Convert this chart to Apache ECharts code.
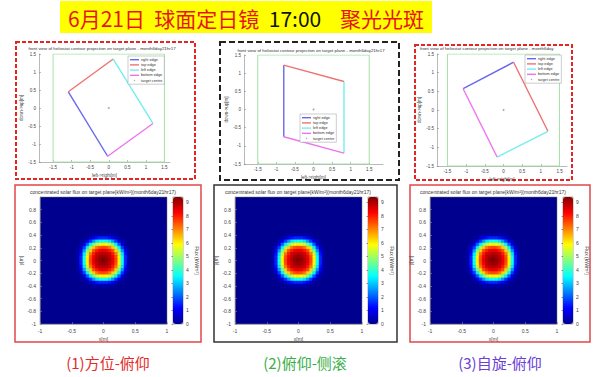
<!DOCTYPE html>
<html>
<head>
<meta charset="utf-8">
<title>6月21日 球面定日镜 17:00 聚光光斑</title>
<script src="https://cdn.jsdelivr.net/npm/echarts@6/dist/echarts.min.js"></script>
<style>
  html, body { margin: 0; padding: 0; background: #fff; }
  #main { width: 600px; height: 377px; }
</style>
</head>
<body>
<div id="main"></div>
<script>
// 定日镜轮廓在靶面上的投影: 四个角点, 从 right edge 起点开始顺序排列
const CORNERS_1 = [[-0.03, -1.34], [-1.09, 0.45], [0.12, 1.36], [1.19, -0.43]];
const CORNERS_2 = [[-0.8, -0.75], [-0.8, 1.22], [0.82, 0.77], [0.82, -1.2]];
const CORNERS_3 = [[-1.08, 0.57], [0.27, 1.28], [1.19, -0.57], [-0.17, -1.26]];
const TARGET_BOX = [[-1.5, -1.5], [1.5, -1.5], [1.5, 1.5], [-1.5, 1.5], [-1.5, -1.5]];
const TARGET_CENTRE = [[0, 0]];
const EDGE_NAMES = ['right edge', 'top edge', 'left edge', 'bottom edge'];
const CONTOUR_TICKS = [-1.5, -1, -0.5, 0, 0.5, 1, 1.5];

// 聚光光斑 能流密度 kW/m2 (靶面中心 0.9m x 0.9m 区域, 其余为 0)
const FLUX_X = [-0.45, -0.4, -0.35, -0.3, -0.25, -0.2, -0.15, -0.1, -0.05, 0, 0.05, 0.1, 0.15, 0.2, 0.25, 0.3, 0.35, 0.4, 0.45];
const FLUX_Y = [0.45, 0.4, 0.35, 0.3, 0.25, 0.2, 0.15, 0.1, 0.05, 0, -0.05, -0.1, -0.15, -0.2, -0.25, -0.3, -0.35, -0.4, -0.45];
const FLUX = [
  [0, 0, 0, 0, 0, 0, 0, 0, 0, 0, 0, 0, 0, 0, 0, 0, 0, 0, 0],
  [0, 0, 0, 0, 0, 0.1, 0.2, 0.3, 0.3, 0.3, 0.3, 0.3, 0.2, 0.1, 0, 0, 0, 0, 0],
  [0, 0, 0, 0.1, 0.2, 0.6, 1.0, 1.3, 1.5, 1.5, 1.5, 1.3, 1.0, 0.6, 0.2, 0.1, 0, 0, 0],
  [0, 0, 0.1, 0.3, 0.9, 1.7, 2.6, 3.3, 3.6, 3.7, 3.6, 3.3, 2.6, 1.7, 0.9, 0.3, 0.1, 0, 0],
  [0, 0, 0.2, 0.9, 2.0, 3.4, 4.6, 5.4, 5.9, 6.0, 5.9, 5.4, 4.6, 3.4, 2.0, 0.9, 0.2, 0, 0],
  [0, 0.1, 0.6, 1.7, 3.4, 5.1, 6.3, 7.1, 7.5, 7.6, 7.5, 7.1, 6.3, 5.1, 3.4, 1.7, 0.6, 0.1, 0],
  [0, 0.2, 1.0, 2.6, 4.6, 6.3, 7.5, 8.0, 8.3, 8.4, 8.3, 8.0, 7.5, 6.3, 4.6, 2.6, 1.0, 0.2, 0],
  [0, 0.3, 1.3, 3.3, 5.4, 7.1, 8.0, 8.6, 8.8, 8.9, 8.8, 8.6, 8.0, 7.1, 5.4, 3.3, 1.3, 0.3, 0],
  [0, 0.3, 1.5, 3.6, 5.9, 7.5, 8.3, 8.8, 9.1, 9.2, 9.1, 8.8, 8.3, 7.5, 5.9, 3.6, 1.5, 0.3, 0],
  [0, 0.3, 1.5, 3.7, 6.0, 7.6, 8.4, 8.9, 9.2, 9.4, 9.2, 8.9, 8.4, 7.6, 6.0, 3.7, 1.5, 0.3, 0],
  [0, 0.3, 1.5, 3.6, 5.9, 7.5, 8.3, 8.8, 9.1, 9.2, 9.1, 8.8, 8.3, 7.5, 5.9, 3.6, 1.5, 0.3, 0],
  [0, 0.3, 1.3, 3.3, 5.4, 7.1, 8.0, 8.6, 8.8, 8.9, 8.8, 8.6, 8.0, 7.1, 5.4, 3.3, 1.3, 0.3, 0],
  [0, 0.2, 1.0, 2.6, 4.6, 6.3, 7.5, 8.0, 8.3, 8.4, 8.3, 8.0, 7.5, 6.3, 4.6, 2.6, 1.0, 0.2, 0],
  [0, 0.1, 0.6, 1.7, 3.4, 5.1, 6.3, 7.1, 7.5, 7.6, 7.5, 7.1, 6.3, 5.1, 3.4, 1.7, 0.6, 0.1, 0],
  [0, 0, 0.2, 0.9, 2.0, 3.4, 4.6, 5.4, 5.9, 6.0, 5.9, 5.4, 4.6, 3.4, 2.0, 0.9, 0.2, 0, 0],
  [0, 0, 0.1, 0.3, 0.9, 1.7, 2.6, 3.3, 3.6, 3.7, 3.6, 3.3, 2.6, 1.7, 0.9, 0.3, 0.1, 0, 0],
  [0, 0, 0, 0.1, 0.2, 0.6, 1.0, 1.3, 1.5, 1.5, 1.5, 1.3, 1.0, 0.6, 0.2, 0.1, 0, 0, 0],
  [0, 0, 0, 0, 0, 0.1, 0.2, 0.3, 0.3, 0.3, 0.3, 0.3, 0.2, 0.1, 0, 0, 0, 0, 0],
  [0, 0, 0, 0, 0, 0, 0, 0, 0, 0, 0, 0, 0, 0, 0, 0, 0, 0, 0]
];
const FLUX_MAX = 9.4;

const PANEL_LABELS = ['(1)方位-俯仰', '(2)俯仰-侧滚', '(3)自旋-俯仰'];
const CONTOUR_TITLE = 'front view of heliostat contour projection on target plane - month6day21hr17';
const FLUX_TITLE = 'concentrated solar flux on target plane[kW/m²](month6day21hr17)';

const chart = echarts.init(document.getElementById('main'), null, { renderer: 'svg' });

const FONT = '"Liberation Sans", Arial, sans-serif';
const CJK = '"Noto Sans CJK SC", sans-serif';
const EDGE_COLORS = ['#6868ee', '#ee7272', '#74eeee', '#ee74ee'];
const JET = ['#00008f', '#0000ff', '#0080ff', '#00ffff', '#80ff80', '#ffff00', '#ff8000', '#ff0000', '#800000'];
const CELL = 0.05;

// 上排: 轮廓投影图 (grid 位置, x 轴范围, 图例位置)
const topPanels = [
  { grid: [39, 54, 131, 108], xMin: -1.88, xMax: 1.65, corners: CORNERS_1, legend: [128, 56] },
  { grid: [244, 55, 139, 109], xMin: -1.87, xMax: 1.87, corners: CORNERS_2, legend: [300, 114] },
  { grid: [437, 54, 130, 112], xMin: -1.78, xMax: 1.7, corners: CORNERS_3, legend: [525, 55] }
];
// 下排: 能流密度图 + colorbar
const heatPanels = [
  { left: 40, bar: 173 },
  { left: 235, bar: 368 },
  { left: 430, bar: 563 }
];

const grids = [];
const xAxes = [];
const yAxes = [];
const series = [];

const axisLineStyle = { color: '#8a8a8a', width: 0.6 };
const labelStyle = { fontSize: 4.5, color: '#444', fontFamily: FONT };

topPanels.forEach(function (p, i) {
  grids.push({ left: p.grid[0], top: p.grid[1], width: p.grid[2], height: p.grid[3] });
  xAxes.push({
    gridIndex: i, type: 'value', min: p.xMin, max: p.xMax,
    axisLine: { onZero: false, lineStyle: axisLineStyle },
    axisTick: { inside: true, length: 2, customValues: CONTOUR_TICKS, lineStyle: axisLineStyle },
    axisLabel: Object.assign({ margin: 3, customValues: CONTOUR_TICKS }, labelStyle),
    splitLine: { show: false },
    name: 'left->right[m]', nameLocation: 'middle', nameGap: 11,
    nameTextStyle: { fontSize: 4.5, color: '#444', fontFamily: FONT }
  });
  yAxes.push({
    gridIndex: i, type: 'value', min: -1.5, max: 1.5, interval: 0.5,
    axisLine: { onZero: false, lineStyle: axisLineStyle },
    axisTick: { inside: true, length: 2, lineStyle: axisLineStyle },
    axisLabel: Object.assign({ margin: 3 }, labelStyle),
    splitLine: { show: false },
    name: 'down->up[m]', nameLocation: 'middle', nameGap: 12,
    nameTextStyle: { fontSize: 4.5, color: '#444', fontFamily: FONT }
  });

  series.push({
    type: 'line', name: 'target box', xAxisIndex: i, yAxisIndex: i, data: TARGET_BOX,
    symbol: 'none', silent: true, lineStyle: { color: '#a6e2a6', width: 1 }
  });
  EDGE_NAMES.forEach(function (name, k) {
    series.push({
      type: 'line', name: name, xAxisIndex: i, yAxisIndex: i,
      data: [p.corners[k], p.corners[(k + 1) % 4]],
      symbol: 'none', lineStyle: { color: EDGE_COLORS[k], width: 1.4 },
      itemStyle: { color: EDGE_COLORS[k] }
    });
  });
  series.push({
    type: 'scatter', name: 'target centre', xAxisIndex: i, yAxisIndex: i,
    data: TARGET_CENTRE, symbolSize: 2, itemStyle: { color: '#9a9a9a' }
  });
});

// 能流数据点
const fluxData = [];
FLUX.forEach(function (row, r) {
  row.forEach(function (v, c) {
    fluxData.push([FLUX_X[c], FLUX_Y[r], v]);
  });
});

function renderCell(params, api) {
  const a = api.coord([api.value(0) - CELL / 2, api.value(1) + CELL / 2]);
  const b = api.coord([api.value(0) + CELL / 2, api.value(1) - CELL / 2]);
  const color = api.visual('color');
  return {
    type: 'rect',
    shape: { x: a[0], y: a[1], width: b[0] - a[0], height: b[1] - a[1] },
    style: { fill: color, stroke: color, lineWidth: 0.6 }
  };
}

const heatSeriesStart = series.length;
const visualMaps = [];
heatPanels.forEach(function (h, i) {
  const gi = 3 + i;
  grids.push({
    left: h.left, top: 197, width: 127, height: 127,
    show: true, backgroundColor: JET[0], borderColor: '#777', borderWidth: 0.5
  });
  xAxes.push({
    gridIndex: gi, type: 'value', min: -1, max: 1, interval: 0.5,
    axisLine: { onZero: false, lineStyle: axisLineStyle },
    axisTick: { inside: true, length: 2, lineStyle: axisLineStyle },
    axisLabel: Object.assign({ margin: 4 }, labelStyle, { fontSize: 5 }),
    splitLine: { show: false },
    name: 'x[m]', nameLocation: 'middle', nameGap: 12,
    nameTextStyle: { fontSize: 5, color: '#444', fontFamily: FONT }
  });
  yAxes.push({
    gridIndex: gi, type: 'value', min: -1, max: 1, interval: 0.2,
    axisLine: { onZero: false, lineStyle: axisLineStyle },
    axisTick: { inside: true, length: 2, lineStyle: axisLineStyle },
    axisLabel: Object.assign({ margin: 4, showMaxLabel: false }, labelStyle, { fontSize: 5 }),
    splitLine: { show: false },
    name: 'y[m]', nameLocation: 'middle', nameGap: 13,
    nameTextStyle: { fontSize: 5, color: '#444', fontFamily: FONT }
  });
  series.push({
    type: 'custom', name: 'flux' + (i + 1), coordinateSystem: 'cartesian2d',
    xAxisIndex: gi, yAxisIndex: gi, data: fluxData, renderItem: renderCell,
    encode: { x: 0, y: 1 }, silent: true
  });
  visualMaps.push({
    type: 'continuous', min: 0, max: FLUX_MAX, dimension: 2,
    seriesIndex: heatSeriesStart + i, inRange: { color: JET },
    left: h.bar, top: 197, itemWidth: 10, itemHeight: 127, padding: 0,
    calculable: false, hoverLink: false, textStyle: { fontSize: 1, color: 'transparent' }
  });
});

// colorbar 刻度
heatPanels.forEach(function (h, i) {
  const gi = 6 + i;
  grids.push({
    left: h.bar, top: 197, width: 10, height: 127,
    show: true, backgroundColor: 'transparent', borderColor: '#555', borderWidth: 0.5
  });
  xAxes.push({ gridIndex: gi, type: 'value', show: false });
  yAxes.push({
    gridIndex: gi, type: 'value', position: 'right', min: 0, max: FLUX_MAX, interval: 1,
    axisLine: { show: false },
    axisTick: { inside: true, length: 1.5, lineStyle: { color: '#333', width: 0.5 } },
    axisLabel: Object.assign({ margin: 3, showMaxLabel: false }, labelStyle, { fontSize: 5 }),
    splitLine: { show: false },
    name: 'Flux (kW/m²)', nameLocation: 'middle', nameRotate: -90, nameGap: 11,
    nameTextStyle: { fontSize: 5, color: '#444', fontFamily: FONT }
  });
});

const legends = topPanels.map(function (p) {
  return {
    orient: 'vertical', left: p.legend[0], top: p.legend[1],
    data: EDGE_NAMES.map(function (n) { return { name: n, icon: 'rect' }; })
      .concat([{ name: 'target centre', icon: 'circle' }]),
    itemWidth: 9, itemHeight: 1.4, itemGap: 0.8,
    padding: [1.5, 2, 1.5, 2], borderColor: '#999', borderWidth: 0.5, backgroundColor: '#fff',
    selectedMode: false,
    textStyle: { fontSize: 3.8, lineHeight: 4.4, color: '#333', fontFamily: FONT, padding: [0, 0, 0, -3] }
  };
});

function label(text, x, y, size, color, align) {
  return {
    type: 'text', x: x, y: y, silent: true,
    style: {
      text: text, fill: color, font: size + 'px ' + (size > 8 ? CJK : FONT),
      align: align || 'center', verticalAlign: 'middle',
      textAlign: align || 'center', textVerticalAlign: 'middle'
    }
  };
}

const graphics = [
  // 标题
  { type: 'rect', shape: { x: 60, y: 1, width: 372, height: 32 }, style: { fill: '#ffff00' }, silent: true },
  {
    type: 'text', x: 246, y: 18, silent: true,
    style: {
      text: '{r|6月21日  球面定日镜}  {k|17:00}    {r|聚光光斑}',
      font: '21px ' + CJK, fill: '#e81414',
      align: 'center', verticalAlign: 'middle', textAlign: 'center', textVerticalAlign: 'middle',
      rich: {
        r: { fill: '#e81414', font: '21px ' + CJK },
        k: { fill: '#111', font: '21px ' + CJK }
      }
    }
  },
  // 外框
  { type: 'rect', shape: { x: 16, y: 42, width: 179, height: 137 }, style: { fill: 'none', stroke: '#e62424', lineWidth: 2, lineDash: [4, 2] }, silent: true },
  { type: 'rect', shape: { x: 220, y: 42, width: 179, height: 138 }, style: { fill: 'none', stroke: '#222', lineWidth: 2, lineDash: [6, 3] }, silent: true },
  { type: 'rect', shape: { x: 415, y: 45, width: 157, height: 135 }, style: { fill: 'none', stroke: '#e62424', lineWidth: 2, lineDash: [4, 2] }, silent: true },
  { type: 'rect', shape: { x: 15, y: 185, width: 186, height: 157 }, style: { fill: 'none', stroke: '#e04848', lineWidth: 1.5 }, silent: true },
  { type: 'rect', shape: { x: 214, y: 185, width: 183, height: 157 }, style: { fill: 'none', stroke: '#333', lineWidth: 1.5 }, silent: true },
  { type: 'rect', shape: { x: 410, y: 185, width: 180, height: 157 }, style: { fill: 'none', stroke: '#e04848', lineWidth: 1.5 }, silent: true },
  // 子图标题
  label(CONTOUR_TITLE, 102, 48, 4.4, '#333'),
  label(CONTOUR_TITLE, 311, 50, 4.4, '#333'),
  label(CONTOUR_TITLE.slice(0, 70), 420, 48, 4.4, '#333', 'left'),
  label(FLUX_TITLE, 103, 192, 5, '#333'),
  label(FLUX_TITLE, 298, 192, 5, '#333'),
  label(FLUX_TITLE, 493, 192, 5, '#333'),
  // 跟踪方式
  label(PANEL_LABELS[0], 108, 362, 15, '#e32b2b'),
  label(PANEL_LABELS[1], 305, 362, 15, '#3aae4a'),
  label(PANEL_LABELS[2], 500, 362, 15, '#6a40d6')
];

const option = {
  animation: false,
  backgroundColor: '#fff',
  textStyle: { fontFamily: FONT },
  tooltip: { show: false },
  grid: grids,
  xAxis: xAxes,
  yAxis: yAxes,
  legend: legends,
  visualMap: visualMaps,
  series: series,
  graphic: graphics
};

chart.setOption(option);
</script>
</body>
</html>
